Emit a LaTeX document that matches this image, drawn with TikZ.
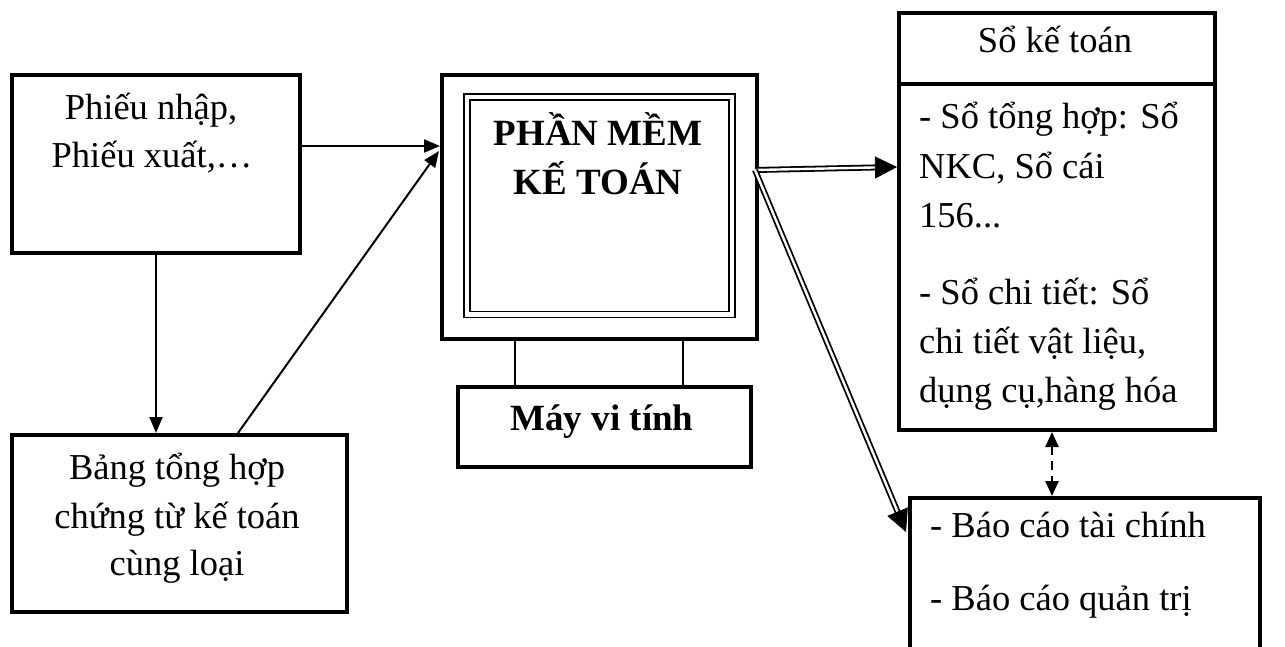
\documentclass[tikz,border=0pt]{standalone}
\usepackage{fontspec}
\setmainfont{Liberation Serif}
\usetikzlibrary{arrows.meta,calc}
\begin{document}
\begin{tikzpicture}[x=1pt,y=-1pt,
  box/.style={draw, line width=4pt, inner sep=0pt, anchor=north west},
  txt/.style={inner sep=0pt, anchor=base, font=\fontsize{36.5}{49}\selectfont},
  ltxt/.style={txt, anchor=base west},
  btxt/.style={txt, font=\fontsize{37}{49}\selectfont\bfseries},
  arr/.style={line width=2pt, -{Triangle[length=16pt,width=13pt]}},
  dbl/.style={double, line width=1.8pt, double distance=2.4pt},
  bighead/.style={line width=0.8pt, -{Triangle[length=22pt,width=22pt]}},
  dasharr/.style={line width=2.5pt, dash pattern=on 9pt off 6pt,
     {Triangle[length=15pt,width=13pt]}-{Triangle[length=15pt,width=13pt]}},
  thin/.style={line width=2pt}]
\clip (0,0) rectangle (1285,647);
% boxes
\node[box, minimum width=288pt, minimum height=178pt] (b1) at (10,73) {};
\node[box, minimum width=335pt, minimum height=177pt] (b2) at (10,433) {};
\node[box, minimum width=315pt, minimum height=264pt] (mon) at (440,73) {};
\node[box, line width=1.8pt, double, double distance=4.2pt, minimum width=265pt, minimum height=217pt] (scr) at (466,96.5) {};
\node[box, minimum width=293pt, minimum height=80pt] (base) at (456,385) {};
\node[box, minimum width=316.5pt, minimum height=71pt] (hdr) at (896.5,11) {};
\node[box, minimum width=316.5pt, minimum height=346pt] (body) at (896.5,82) {};
\node[box, minimum width=350pt, minimum height=200pt] (bc) at (908,496) {};
% stand
\coordinate (sl) at (515,0);
\coordinate (sr) at (683,0);
\draw[thin] (mon.south -| sl) -- (base.north -| sl);
\draw[thin] (mon.south -| sr) -- (base.north -| sr);
% texts
\node[txt] (t1a) at (151,120) {Phiếu nhập,};
\node[txt] (t1b) at (152,168) {Phiếu xuất,…};
\node[txt] (t2a) at (177,479) {Bảng tổng hợp};
\node[txt] (t2b) at (177,528) {chứng từ kế toán};
\node[txt] (t2c) at (177,575) {cùng loại};
\node[btxt] (t3a) at (598,146) {PHẦN MỀM};
\node[btxt] (t3b) at (598,195) {KẾ TOÁN};
\node[btxt] (t4) at (602,430) {Máy vi tính};
\node[txt] (t5) at (1055,53) {Sổ kế toán};
\node[ltxt] (t6a) at (919,129) {- Sổ tổng hợp: Sổ};
\node[ltxt] (t6b) at (919,179) {NKC, Sổ cái};
\node[ltxt] (t6c) at (919,228) {156...};
\node[ltxt] (t6d) at (919,304) {- Sổ chi tiết: Sổ};
\node[ltxt] (t6e) at (919,353) {chi tiết vật liệu,};
\node[ltxt] (t6f) at (919,402) {dụng cụ,hàng hóa};
\node[ltxt] (t7a) at (930,537) {- Báo cáo tài chính};
\node[ltxt] (t7b) at (930,610) {- Báo cáo quản trị};
% connectors
\coordinate (in1) at (440,146);
\coordinate (in2) at (439,151);
\coordinate (d0) at (238,0);
\draw[arr] (b1.east |- in1) -- (in1);
\draw[arr] (b1.south) -- (b1.south |- b2.north);
\draw[arr] (b2.north -| d0) -- (in2);
\coordinate (out) at (755,170);
\coordinate (e1) at (897,167);
\coordinate (e2) at (906,532);
\draw[dbl, shorten >=18pt] (out) -- (e1);
\draw[bighead] ($(e1)!22pt!(out)$) -- (e1);
\draw[dbl, shorten >=18pt] (out) -- (e2);
\draw[bighead] ($(e2)!22pt!(out)$) -- (e2);
\coordinate (dx) at (1052,0);
\draw[dasharr] (body.south -| dx) -- (bc.north -| dx);
\end{tikzpicture}
\end{document}
